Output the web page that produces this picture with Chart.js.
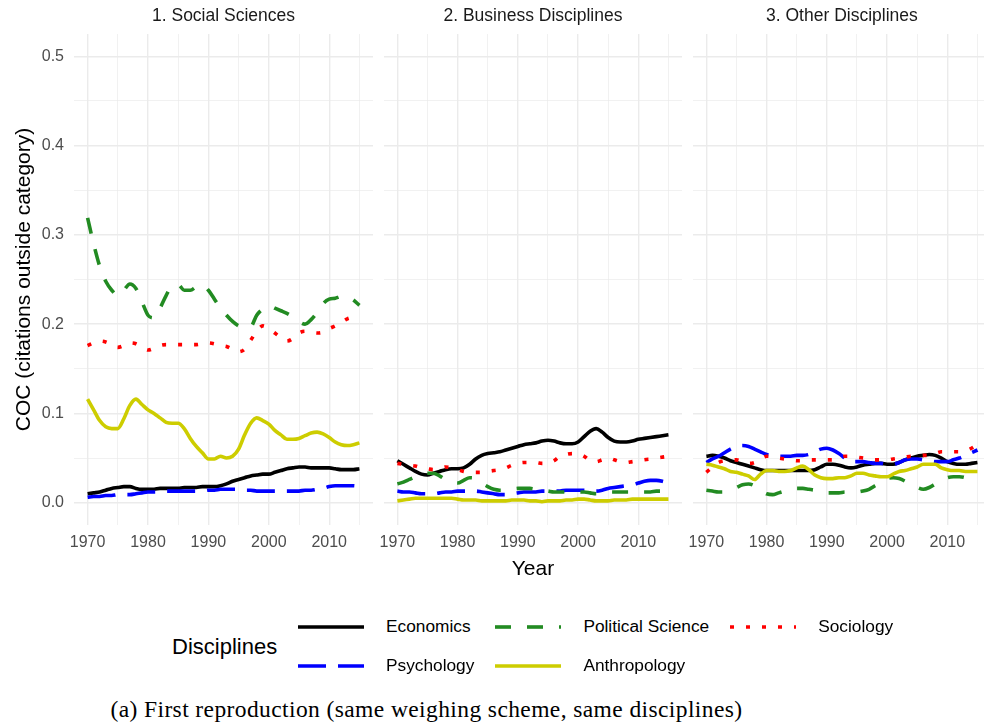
<!DOCTYPE html>
<html>
<head>
<meta charset="utf-8">
<script src="https://cdn.jsdelivr.net/npm/chart.js@4.4.1/dist/chart.umd.min.js"></script>
<style>
    html, body { margin: 0; padding: 0; background: #fff; }
    #page { position: relative; width: 984px; height: 728px; overflow: hidden; background: #fff;
            font-family: "Liberation Sans", Arial, sans-serif; }
    #page canvas.panel { position: absolute; top: 0; }
    #legendTitle { position: absolute; left: 172px; top: 633px; font-size: 22px; line-height: 28px; color: #000; }
    #legend { position: absolute; left: 298px; top: 607px; display: grid;
              grid-template-columns: repeat(3, auto); column-gap: 21px; }
    #legend .item { display: flex; align-items: center; height: 39px; font-size: 17.3px; color: #000; }
    #legend .item canvas { margin-right: 22px; }
    #caption { position: absolute; left: 0; width: 853px; top: 696px; text-align: center;
               font-family: "Liberation Serif", serif; font-size: 23.5px; letter-spacing: 0.4px; color: #000; }
</style>
</head>
<body>
<div id="page">
    <canvas id="panel1" class="panel" width="379" height="590" style="left:0px"></canvas>
    <canvas id="panel2" class="panel" width="323" height="590" style="left:371px"></canvas>
    <canvas id="panel3" class="panel" width="311" height="590" style="left:680px"></canvas>
    <div id="legendTitle">Disciplines</div>
    <div id="legend"></div>
    <div id="caption">(a) First reproduction (same weighing scheme, same disciplines)</div>
</div>
<script>
const years = [1970, 1971, 1972, 1973, 1974, 1975, 1976, 1977, 1978, 1979,
               1980, 1981, 1982, 1983, 1984, 1985, 1986, 1987, 1988, 1989,
               1990, 1991, 1992, 1993, 1994, 1995, 1996, 1997, 1998, 1999,
               2000, 2001, 2002, 2003, 2004, 2005, 2006, 2007, 2008, 2009,
               2010, 2011, 2012, 2013, 2014, 2015];

const panelTitles = ['1. Social Sciences', '2. Business Disciplines', '3. Other Disciplines'];
const disciplines = ['Economics', 'Political Science', 'Sociology', 'Psychology', 'Anthropology'];

// 1. Social Sciences
const econSoc = [0.010,0.011,0.012,0.014,0.016,0.017,0.018,0.018,0.016,0.015, 0.015,0.015,0.016,0.016,0.016,0.016,0.017,0.017,0.017,0.018,
                 0.018,0.018,0.019,0.021,0.024,0.026,0.028,0.030,0.031,0.032, 0.032,0.034,0.036,0.038,0.039,0.040,0.040,0.039,0.039,0.039,
                 0.039,0.038,0.037,0.037,0.037,0.038];
const polSoc = [0.319,0.290,0.265,0.248,0.238,0.232,0.238,0.245,0.240,0.225, 0.210,0.207,0.218,0.232,0.243,0.244,0.238,0.238,0.242,0.244,
                0.238,0.228,0.218,0.210,0.203,0.198,0.196,0.197,0.210,0.217, 0.221,0.218,0.215,0.212,0.208,0.203,0.200,0.205,0.213,0.223,
                0.228,0.229,0.231,0.231,0.227,0.221];
const socSoc = [0.176,0.179,0.181,0.180,0.177,0.174,0.176,0.179,0.178,0.174, 0.171,0.173,0.176,0.177,0.177,0.177,0.177,0.177,0.177,0.178,
                0.179,0.178,0.176,0.175,0.172,0.169,0.172,0.182,0.192,0.198, 0.195,0.190,0.185,0.181,0.184,0.190,0.192,0.191,0.190,0.191,
                0.195,0.198,0.202,0.206,0.208,0.210];
const psychSoc = [0.006,0.007,0.007,0.008,0.008,0.009,0.009,0.009,0.010,0.011, 0.012,0.012,0.012,0.013,0.013,0.013,0.013,0.013,0.013,0.013,
                  0.014,0.014,0.015,0.015,0.015,0.015,0.014,0.014,0.013,0.013, 0.013,0.013,0.013,0.013,0.013,0.013,0.014,0.014,0.015,0.016,
                  0.018,0.019,0.019,0.019,0.019,0.018];
const anthSoc = [0.116,0.104,0.092,0.085,0.083,0.083,0.094,0.109,0.116,0.110, 0.104,0.100,0.095,0.090,0.089,0.089,0.083,0.072,0.063,0.056,
                 0.049,0.049,0.052,0.050,0.052,0.060,0.076,0.089,0.095,0.092, 0.088,0.081,0.076,0.071,0.071,0.072,0.075,0.078,0.079,0.077,
                 0.073,0.068,0.065,0.064,0.065,0.067];

// 2. Business Disciplines
const econBus = [0.047,0.043,0.039,0.035,0.032,0.031,0.033,0.035,0.037,0.038, 0.038,0.039,0.043,0.049,0.053,0.055,0.056,0.057,0.059,0.061,
                 0.063,0.065,0.066,0.067,0.069,0.070,0.069,0.067,0.066,0.066, 0.068,0.074,0.080,0.083,0.079,0.073,0.069,0.068,0.068,0.069,
                 0.071,0.072,0.073,0.074,0.075,0.076];
const polBus = [0.021,0.023,0.026,0.029,0.032,0.033,0.033,0.030,0.026,0.023, 0.022,0.025,0.028,0.027,0.022,0.018,0.015,0.014,0.014,0.015,
                0.016,0.016,0.016,0.015,0.014,0.013,0.012,0.012,0.012,0.012, 0.012,0.012,0.011,0.010,0.011,0.012,0.012,0.012,0.012,0.012,
                0.012,0.012,0.012,0.013,0.013,0.013];
const socBus = [0.044,0.043,0.042,0.041,0.039,0.038,0.037,0.038,0.040,0.039, 0.037,0.035,0.034,0.034,0.034,0.035,0.036,0.037,0.039,0.042,
                0.044,0.045,0.045,0.045,0.044,0.044,0.047,0.052,0.054,0.055, 0.055,0.052,0.047,0.046,0.048,0.050,0.048,0.046,0.045,0.046,
                0.047,0.048,0.049,0.050,0.051,0.052];
const psychBus = [0.013,0.012,0.012,0.011,0.010,0.010,0.010,0.011,0.012,0.012, 0.013,0.013,0.013,0.013,0.012,0.011,0.010,0.009,0.009,0.010,
                  0.011,0.012,0.012,0.012,0.013,0.013,0.013,0.013,0.014,0.014, 0.014,0.014,0.013,0.013,0.014,0.016,0.017,0.018,0.019,0.020,
                  0.022,0.024,0.025,0.025,0.024,0.022];
const anthBus = [0.002,0.003,0.004,0.005,0.005,0.005,0.005,0.005,0.005,0.005, 0.004,0.003,0.003,0.003,0.002,0.002,0.002,0.002,0.002,0.003,
                 0.003,0.003,0.002,0.002,0.001,0.002,0.002,0.002,0.003,0.003, 0.004,0.004,0.003,0.002,0.002,0.002,0.003,0.003,0.003,0.004,
                 0.004,0.004,0.004,0.004,0.004,0.004];

// 3. Other Disciplines
const econOth = [0.052,0.053,0.052,0.050,0.047,0.045,0.043,0.041,0.039,0.037, 0.036,0.036,0.036,0.036,0.036,0.036,0.036,0.036,0.037,0.040,
                 0.043,0.043,0.042,0.040,0.039,0.040,0.042,0.043,0.044,0.044, 0.043,0.043,0.045,0.048,0.050,0.052,0.053,0.054,0.053,0.050,
                 0.046,0.044,0.043,0.043,0.044,0.045];
const polOth = [0.014,0.013,0.012,0.012,0.014,0.017,0.020,0.021,0.019,0.014, 0.010,0.009,0.011,0.013,0.015,0.016,0.016,0.015,0.014,0.012,
                0.011,0.011,0.011,0.012,0.012,0.012,0.013,0.015,0.019,0.023, 0.027,0.028,0.027,0.024,0.020,0.017,0.015,0.017,0.021,0.025,
                0.028,0.029,0.029,0.028,0.025,0.020];
const socOth = [0.034,0.040,0.045,0.047,0.048,0.048,0.046,0.044,0.045,0.049, 0.052,0.052,0.050,0.049,0.048,0.047,0.047,0.048,0.048,0.048,
                0.048,0.048,0.050,0.052,0.052,0.051,0.050,0.049,0.048,0.048, 0.048,0.049,0.050,0.051,0.052,0.052,0.053,0.053,0.055,0.057,
                0.057,0.057,0.057,0.058,0.061,0.065];
const psychOth = [0.045,0.049,0.052,0.056,0.060,0.063,0.064,0.063,0.060,0.057, 0.054,0.053,0.052,0.052,0.052,0.053,0.053,0.054,0.057,0.060,
                  0.061,0.059,0.055,0.050,0.046,0.046,0.046,0.045,0.044,0.044, 0.043,0.043,0.045,0.048,0.049,0.049,0.048,0.047,0.046,0.046,
                  0.046,0.048,0.050,0.053,0.056,0.059];
const anthOth = [0.043,0.042,0.040,0.038,0.035,0.034,0.032,0.030,0.026,0.032, 0.036,0.036,0.035,0.035,0.036,0.039,0.041,0.037,0.031,0.028,
                 0.027,0.027,0.028,0.028,0.030,0.033,0.033,0.031,0.030,0.029, 0.029,0.032,0.035,0.036,0.038,0.040,0.043,0.043,0.043,0.039,
                 0.037,0.036,0.036,0.035,0.035,0.035];

// line look per discipline (ggplot: solid / dashed / dotted / longdash / solid)
const LW = 3.6;
const styles = {
    'Economics':         { color: '#000000', dash: [] },
    'Political Science': { color: '#228B22', dash: [16, 16] },
    'Sociology':         { color: '#FF0000', dash: [4, 12] },
    'Psychology':        { color: '#0000FF', dash: [28, 12] },
    'Anthropology':      { color: '#CDCD00', dash: [] },
};

Chart.defaults.font.family = '"Liberation Sans", Arial, sans-serif';
Chart.defaults.animation = false;

function isMajorX(v) { return v % 10 === 0; }
function isMajorY(v) { return Math.abs(v * 10 - Math.round(v * 10)) < 1e-6; }

function makeDataset(name, values) {
    const st = styles[name];
    return {
        label: name,
        data: years.map((yr, i) => ({ x: yr, y: values[i] })),
        borderColor: st.color,
        borderDash: st.dash,
        borderWidth: LW,
        borderCapStyle: 'butt',
        borderJoinStyle: 'round',
        pointRadius: 0,
        cubicInterpolationMode: 'monotone',
        fill: false,
    };
}

function makePanel(canvasId, title, series, first, middle) {
    // first dataset is drawn on top in Chart.js, so list in reverse ggplot order
    const datasets = [
        makeDataset('Sociology', series.soc),
        makeDataset('Anthropology', series.anth),
        makeDataset('Political Science', series.pol),
        makeDataset('Psychology', series.psych),
        makeDataset('Economics', series.econ),
    ];
    const ctx = document.getElementById(canvasId).getContext('2d');
    return new Chart(ctx, {
        type: 'line',
        data: { datasets },
        options: {
            responsive: false,
            layout: { padding: { left: first ? 0 : 12, right: first ? 6 : (middle ? 12 : 0), top: 0, bottom: 0 } },
            plugins: {
                legend: { display: false },
                tooltip: { enabled: false },
                title: {
                    display: true,
                    text: title,
                    fullSize: false,
                    color: '#1A1A1A',
                    font: { size: 17.5, weight: 'normal', lineHeight: 1.2 },
                    padding: { top: 6, bottom: 7 },
                },
            },
            scales: {
                x: {
                    type: 'linear',
                    min: 1967.75,
                    max: 2017.25,
                    afterBuildTicks: s => { s.ticks = [1970, 1975, 1980, 1985, 1990, 1995, 2000, 2005, 2010, 2015].map(v => ({ value: v })); },
                    afterFit: s => { s.height = 65; },
                    border: { display: false },
                    grid: {
                        drawTicks: false,
                        color: '#EBEBEB',
                        lineWidth: c => (isMajorX(c.tick.value) ? 1.4 : 0.7),
                    },
                    ticks: {
                        autoSkip: false,
                        maxRotation: 0,
                        padding: 8,
                        color: '#4D4D4D',
                        font: { size: 16 },
                        callback: v => (isMajorX(v) ? String(v) : ''),
                    },
                    title: {
                        display: middle,
                        text: 'Year',
                        color: '#000',
                        font: { size: 21 },
                        padding: { top: 0, bottom: 8 },
                    },
                },
                y: {
                    type: 'linear',
                    min: -0.025,
                    max: 0.525,
                    afterBuildTicks: s => {
                        s.ticks = [0, 0.05, 0.1, 0.15, 0.2, 0.25, 0.3, 0.35, 0.4, 0.45, 0.5].map(v => ({ value: v }));
                    },
                    afterFit: s => { s.width = first ? 74 : 0; },
                    border: { display: false },
                    grid: {
                        drawTicks: false,
                        color: '#EBEBEB',
                        lineWidth: c => (isMajorY(c.tick.value) ? 1.4 : 0.7),
                    },
                    ticks: {
                        display: first,
                        padding: 10,
                        color: '#4D4D4D',
                        font: { size: 16 },
                        callback: v => (isMajorY(v) ? v.toFixed(1) : ''),
                    },
                    title: {
                        display: first,
                        text: 'COC (citations outside category)',
                        color: '#000',
                        font: { size: 21 },
                        padding: { top: 12, bottom: 0 },
                    },
                },
            },
        },
    });
}

makePanel('panel1', panelTitles[0], { econ: econSoc, pol: polSoc, soc: socSoc, psych: psychSoc, anth: anthSoc }, true, false);
makePanel('panel2', panelTitles[1], { econ: econBus, pol: polBus, soc: socBus, psych: psychBus, anth: anthBus }, false, true);
makePanel('panel3', panelTitles[2], { econ: econOth, pol: polOth, soc: socOth, psych: psychOth, anth: anthOth }, false, false);

// Legend (ggplot style, two rows, column-major order)
const legendOrder = ['Economics', 'Political Science', 'Sociology', 'Psychology', 'Anthropology'];
const legendEl = document.getElementById('legend');
legendOrder.forEach(name => {
    const item = document.createElement('div');
    item.className = 'item';
    const key = document.createElement('canvas');
    key.width = 66;
    key.height = 12;
    const k = key.getContext('2d');
    k.strokeStyle = styles[name].color;
    k.lineWidth = LW;
    k.lineCap = 'butt';
    k.setLineDash(styles[name].dash);
    k.beginPath();
    k.moveTo(0, 6);
    k.lineTo(66, 6);
    k.stroke();
    const label = document.createElement('span');
    label.textContent = name;
    item.appendChild(key);
    item.appendChild(label);
    legendEl.appendChild(item);
});
</script>
</body>
</html>
